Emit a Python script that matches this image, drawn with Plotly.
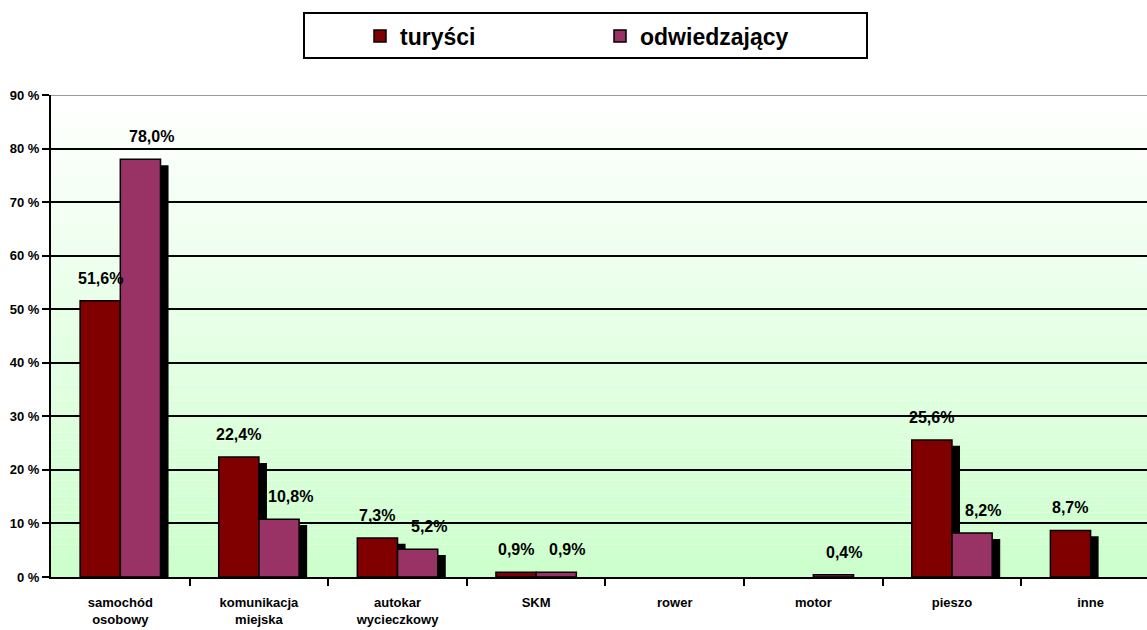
import plotly.graph_objects as go

categories = ["samochód<br>osobowy", "komunikacja<br>miejska", "autokar<br>wycieczkowy",
              "SKM", "rower", "motor", "pieszo", "inne"]
turysci = [51.6, 22.4, 7.3, 0.9, None, None, 25.6, 8.7]
odwiedzajacy = [78.0, 10.8, 5.2, 0.9, None, 0.4, 8.2, None]
series_names = ["turyści", "odwiedzający"]
y_ticks = [0, 10, 20, 30, 40, 50, 60, 70, 80, 90]

FONT = "Liberation Sans, Arial, sans-serif"
COL_T = "#800000"
COL_O = "#993366"
BAR_W = 0.29
SH_DX = 0.058
SH_DY = 1.1

x = list(range(len(categories)))

def shadow(vals):
    return [None if v is None else max(v - SH_DY, 0) for v in vals]

fig = go.Figure()
# shadows (3D depth)
fig.add_trace(go.Bar(x=x, y=shadow(turysci), width=BAR_W, offset=-BAR_W + SH_DX,
                     marker=dict(color="black", line=dict(width=0)), showlegend=False, hoverinfo="skip"))
fig.add_trace(go.Bar(x=x, y=shadow(odwiedzajacy), width=BAR_W, offset=SH_DX,
                     marker=dict(color="black", line=dict(width=0)), showlegend=False, hoverinfo="skip"))
# main bars
fig.add_trace(go.Bar(x=x, y=turysci, width=BAR_W, offset=-BAR_W, name=series_names[0],
                     marker=dict(color=COL_T, line=dict(color="black", width=1.5))))
fig.add_trace(go.Bar(x=x, y=odwiedzajacy, width=BAR_W, offset=0, name=series_names[1],
                     marker=dict(color=COL_O, line=dict(color="black", width=1.5))))

annotations = []
for vals, dx, xs in ((turysci, -BAR_W / 2, 0), (odwiedzajacy, BAR_W / 2, 11)):
    for i, v in enumerate(vals):
        if v is None:
            continue
        annotations.append(dict(x=i + dx, y=v, xref="x", yref="y",
                                text=f"{v:.1f}".replace(".", ",") + "%",
                                showarrow=False, yanchor="bottom", yshift=12, xshift=xs,
                                font=dict(family=FONT, size=16, color="black", weight="bold")))

# gradient background of the plot area
shapes = []
N = 60
c0 = (204, 255, 204)
c1 = (255, 255, 255)
for k in range(N):
    t = (k + 0.5) / N
    col = tuple(round(c0[j] + (c1[j] - c0[j]) * t) for j in range(3))
    shapes.append(dict(type="rect", xref="paper", yref="y", x0=0, x1=1,
                       y0=90 * k / N, y1=90 * (k + 1) / N, layer="below",
                       fillcolor=f"rgb{col}", line=dict(width=0)))
# top boundary line (grey)
shapes.append(dict(type="line", xref="paper", yref="y", x0=0, x1=1, y0=90, y1=90,
                   line=dict(color="#999999", width=2), layer="above"))
# legend box
W_PLOT = 1096.0
H_PLOT = 482.0
def px_x(p):
    return (p - 51) / W_PLOT
def px_y(p):
    return 1 + (95 - p) / H_PLOT
shapes.append(dict(type="rect", xref="paper", yref="paper",
                   x0=px_x(304), x1=px_x(867), y0=px_y(58), y1=px_y(13),
                   line=dict(color="black", width=2), fillcolor="rgba(0,0,0,0)"))

fig.update_layout(
    width=1147, height=630,
    margin=dict(l=51, r=0, t=95, b=53),
    paper_bgcolor="white", plot_bgcolor="white",
    barmode="overlay",
    font=dict(family=FONT, color="black"),
    showlegend=True,
    legend=dict(orientation="h", x=px_x(360), xanchor="left", y=px_y(36), yanchor="middle",
                font=dict(family=FONT, size=23, color="black", weight="bold"),
                entrywidth=195, bgcolor="rgba(0,0,0,0)", borderwidth=0),
    annotations=annotations,
    shapes=shapes,
    xaxis=dict(range=[-0.5, 7.407], tickmode="array", tickvals=x, ticktext=categories,
               ticks="", showgrid=False, zeroline=False, showline=True,
               linecolor="black", linewidth=2, ticklabelstandoff=12,
               tickfont=dict(family=FONT, size=13, color="black", weight="bold"),
               minor=dict(tickmode="array", tickvals=[i + 0.5 for i in x], ticks="outside",
                          ticklen=7, tickwidth=2, tickcolor="black", showgrid=False)),
    yaxis=dict(range=[0, 90], tickmode="array", tickvals=y_ticks,
               ticktext=[f"{v} %" for v in y_ticks],
               ticks="outside", ticklen=7, tickwidth=2, tickcolor="black",
               showgrid=True, gridcolor="black", gridwidth=2, zeroline=False,
               showline=True, linecolor="black", linewidth=2,
               tickfont=dict(family=FONT, size=13, color="black", weight="bold")),
)

fig.write_html("out.html", config={"displayModeBar": False},
               post_script="document.body.style.margin='0';document.body.style.overflow='hidden';")
